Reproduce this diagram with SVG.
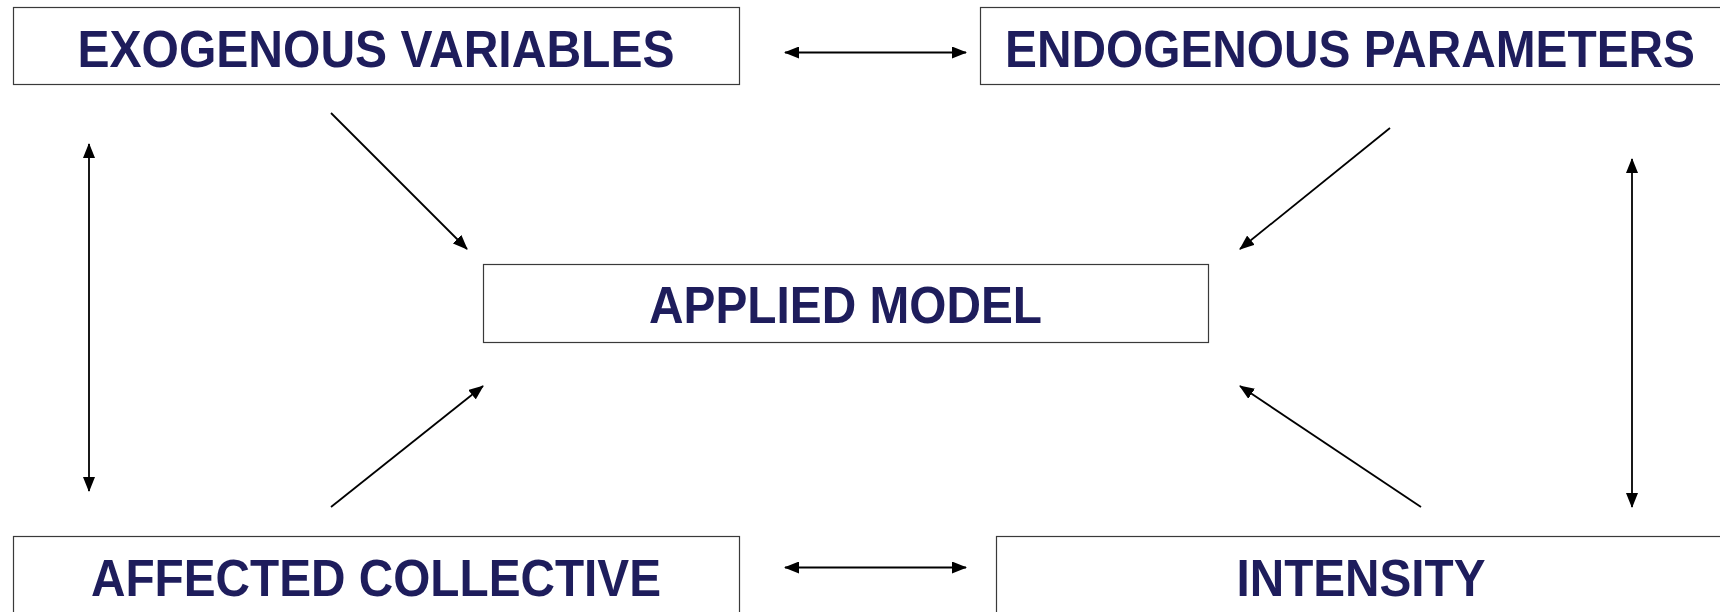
<svg xmlns="http://www.w3.org/2000/svg" width="1720" height="612" viewBox="0 0 1720 612">
  <style>
    .box { fill: #ffffff; stroke: #3a3a3a; stroke-width: 1.2; }
    .label { font-family: "Liberation Sans", Arial, sans-serif; font-weight: bold; font-size: 52px; fill: #1e1d5c; text-anchor: middle; }
    .link { stroke: #000000; stroke-width: 1.8; fill: none; marker-end: url(#head); }
    .both { marker-start: url(#head); }
  </style>
  <defs>
    <marker id="head" viewBox="0 0 15 12" refX="14" refY="6" markerWidth="15" markerHeight="12" markerUnits="userSpaceOnUse" orient="auto-start-reverse">
      <path d="M0,0 L15,6 L0,12 z" fill="#000000"/>
    </marker>
  </defs>
  <rect width="1720" height="612" fill="#ffffff"/>

  <g id="exogenous-variables">
    <rect class="box" x="13.5" y="7.5" width="726" height="77"/>
    <text class="label" x="376" y="67" textLength="597" lengthAdjust="spacingAndGlyphs">EXOGENOUS VARIABLES</text>
  </g>

  <g id="endogenous-parameters">
    <rect class="box" x="980.5" y="7.5" width="745" height="77"/>
    <text class="label" x="1350" y="67" textLength="690" lengthAdjust="spacingAndGlyphs">ENDOGENOUS PARAMETERS</text>
  </g>

  <g id="applied-model">
    <rect class="box" x="483.5" y="264.5" width="725" height="78"/>
    <text class="label" x="845.5" y="322.5" textLength="393" lengthAdjust="spacingAndGlyphs">APPLIED MODEL</text>
  </g>

  <g id="affected-collective">
    <rect class="box" x="13.5" y="536.5" width="726" height="90"/>
    <text class="label" x="376" y="596" textLength="570" lengthAdjust="spacingAndGlyphs">AFFECTED COLLECTIVE</text>
  </g>

  <g id="intensity">
    <rect class="box" x="996.5" y="536.5" width="740" height="90"/>
    <text class="label" x="1361" y="596" textLength="249" lengthAdjust="spacingAndGlyphs">INTENSITY</text>
  </g>

  <g id="connectors">
    <line class="link both" x1="785" y1="52.5" x2="966" y2="52.5"/>
    <line class="link both" x1="785" y1="567.5" x2="966" y2="567.5"/>
    <line class="link both" x1="89" y1="144" x2="89" y2="491"/>
    <line class="link both" x1="1632" y1="159" x2="1632" y2="507"/>
    <line class="link" x1="331" y1="113" x2="467" y2="249"/>
    <line class="link" x1="1390" y1="128" x2="1240" y2="249"/>
    <line class="link" x1="331" y1="507" x2="483" y2="386"/>
    <line class="link" x1="1421" y1="507" x2="1240" y2="386"/>
  </g>
</svg>
